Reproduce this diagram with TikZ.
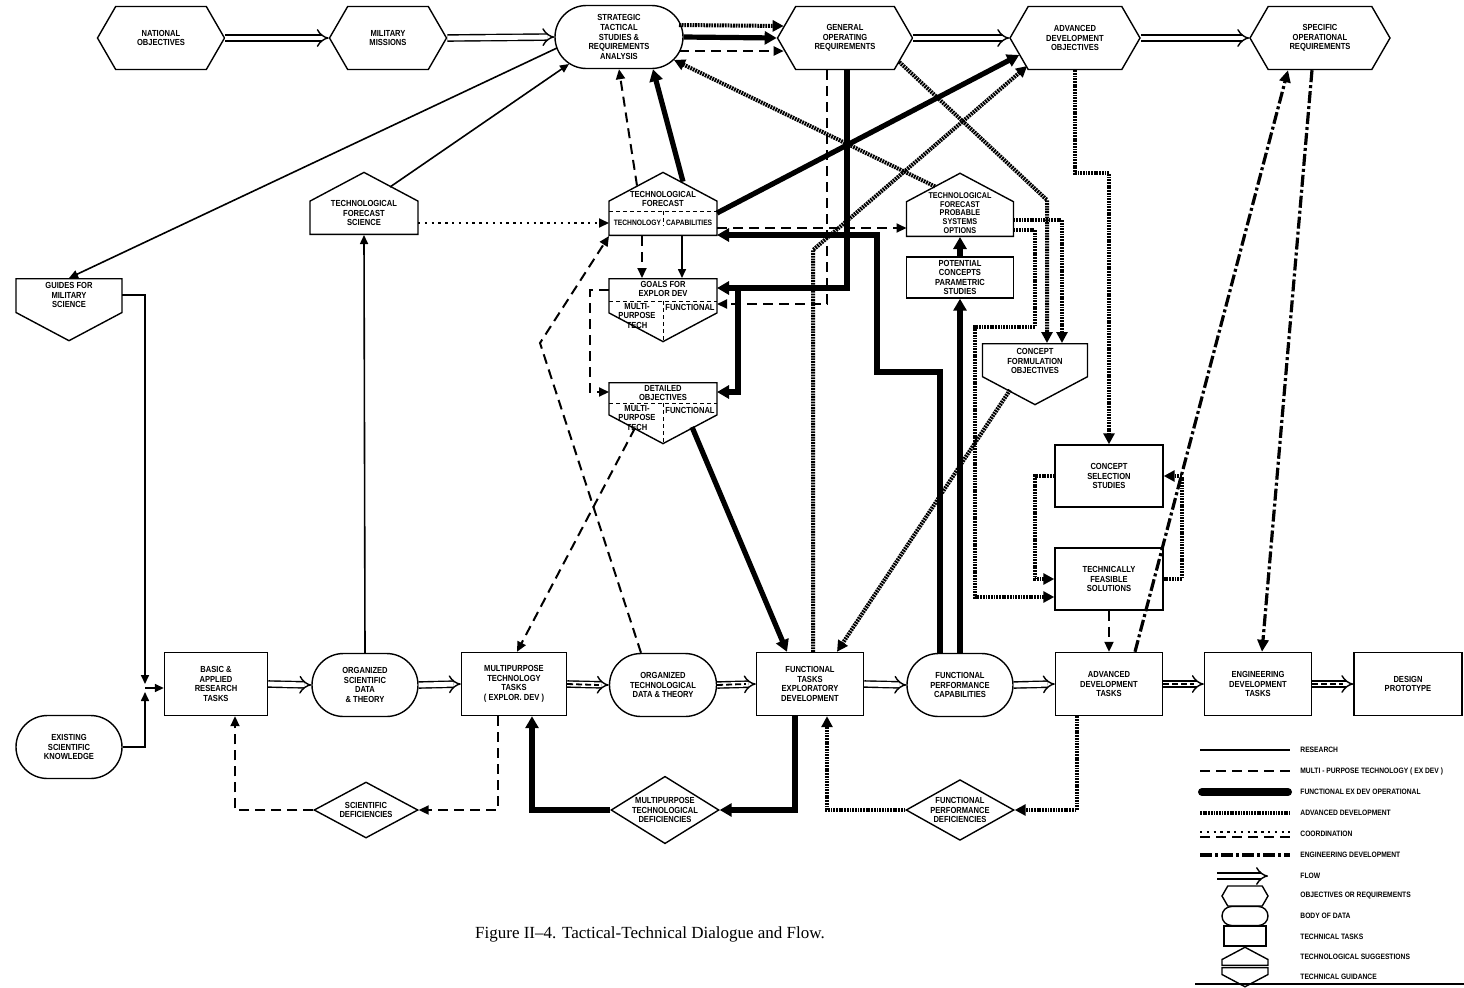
\documentclass[tikz,border=0pt]{standalone}
\usepackage{fontspec}
\setmainfont{Liberation Serif}
\newfontfamily\labfont[FakeStretch=0.86]{Liberation Sans}
\usetikzlibrary{arrows.meta, positioning, shapes.geometric, shapes.symbols, shapes.misc, calc}
\tikzset{
    lbl/.style={font=\labfont\bfseries\fontsize{4.4}{4.8}\selectfont, align=center, inner sep=0pt},
    legtext/.style={font=\labfont\bfseries\fontsize{3.9}{4.2}\selectfont, anchor=west, inner sep=0pt},
    objbox/.style={lbl, draw, line width=0.7pt, signal, signal to=west and east, signal pointer angle=120, minimum height=31.5pt},
    databox/.style={lbl, draw, line width=0.7pt, rounded rectangle, minimum height=31.5pt},
    taskbox/.style={lbl, draw, line width=0.7pt, rectangle, minimum height=31.5pt},
    suggbox/.style={draw, line width=0.7pt, signal, signal to=north, signal pointer angle=124, inner sep=0pt, anchor=south},
    guidbox/.style={draw, line width=0.7pt, signal, signal to=south, signal pointer angle=124, inner sep=0pt, anchor=north},
    defbox/.style={lbl, draw, line width=0.7pt, diamond, inner sep=-3pt},
    divline/.style={line width=0.5pt, dash pattern=on 2pt off 1.5pt},
    researchline/.style={line width=0.8pt, -{Triangle[length=4.5pt,width=4pt]}},
    multiline/.style={line width=1pt, dash pattern=on 5pt off 3pt, -{Triangle[length=5pt,width=4.5pt]}},
    funcline/.style={line width=2.6pt, -{Triangle[length=6pt,width=6.5pt]}},
    advline/.style={line width=2pt, dash pattern=on 0.9pt off 0.45pt, -{Triangle[length=5.5pt,width=5.5pt]}},
    coordline/.style={line width=0.9pt, dash pattern=on 1.2pt off 2.2pt, -{Triangle[length=5pt,width=4.5pt]}},
    engrline/.style={line width=1.6pt, dash pattern=on 6pt off 1.5pt on 1.5pt off 1.5pt, -{Triangle[length=6pt,width=5.5pt]}},
    flowline/.style={double, double distance=2.4pt, line width=0.7pt, -{Implies}},
    flowdash/.style={line width=0.9pt, dash pattern=on 3pt off 1.5pt}
}
\begin{document}
\begin{tikzpicture}[x=0.5pt, y=-0.5pt]
\useasboundingbox (0,0) rectangle (1464,987);

% objectives and requirements
\node[objbox, minimum width=63.5pt] (natobj) at (161,38) {NATIONAL\\OBJECTIVES};
\node[objbox, minimum width=58.5pt] (milmis) at (388,38) {MILITARY\\MISSIONS};
\node[databox, minimum width=64pt] (stsra) at (619,37) {STRATEGIC\\TACTICAL\\STUDIES \&\\REQUIREMENTS\\ANALYSIS};
\node[objbox, minimum width=67.5pt] (genreq) at (845,38) {GENERAL\\OPERATING\\REQUIREMENTS};
\node[objbox, minimum width=65pt] (advobj) at (1075,38) {ADVANCED\\DEVELOPMENT\\OBJECTIVES};
\node[objbox, minimum width=70pt] (specreq) at (1320,38) {SPECIFIC\\OPERATIONAL\\REQUIREMENTS};

% suggestions and guidance
\node[suggbox, minimum width=54pt, minimum height=16.6pt] (tfsci) at (364,235) {};
\node[lbl] (tfscitxt) at (364,213) {TECHNOLOGICAL\\FORECAST\\SCIENCE};
\node[guidbox, minimum width=53pt, minimum height=16.9pt] (guides) at (69,278) {};
\node[lbl] (guidestxt) at (69,295) {GUIDES FOR\\MILITARY\\SCIENCE};

\node[suggbox, minimum width=54pt, minimum height=17.1pt] (techfc) at (663,236) {};
\node[lbl] (techfctxt) at (663,199) {TECHNOLOGICAL\\FORECAST};
\node[lbl, font=\labfont\bfseries\fontsize{3.9}{4.2}\selectfont] (techcaptxt) at (663,223) {TECHNOLOGY\hspace{2.5pt}CAPABILITIES};
\draw[divline] (609,211) -- (717,211) (663,211) -- (663,226);

\node[guidbox, minimum width=54pt, minimum height=17.1pt] (goals) at (663,278) {};
\node[lbl] (goalstxt) at (663,289) {GOALS FOR\\EXPLOR DEV};
\node[lbl] (goalsmp) at (637,316) {MULTI-\\PURPOSE\\TECH};
\node[lbl] (goalsfn) at (690,307) {FUNCTIONAL};
\draw[divline] (609,301) -- (717,301) (663,301) -- (663,340);

\node[guidbox, minimum width=54pt, minimum height=16.1pt] (detobj) at (663,382) {};
\node[lbl] (detobjtxt) at (663,393) {DETAILED\\OBJECTIVES};
\node[lbl] (detobjmp) at (637,418) {MULTI-\\PURPOSE\\TECH};
\node[lbl] (detobjfn) at (690,410) {FUNCTIONAL};
\draw[divline] (609,403) -- (717,403) (663,403) -- (663,442);

\node[suggbox, minimum width=53.5pt, minimum height=17.3pt] (tfpso) at (960,237) {};
\node[lbl, font=\labfont\bfseries\fontsize{4.2}{4.3}\selectfont] (tfpsotxt) at (960,213) {TECHNOLOGICAL\\FORECAST\\PROBABLE\\SYSTEMS\\OPTIONS};
\node[taskbox, minimum width=53.5pt, minimum height=20.5pt] (pcps) at (960,277.5) {POTENTIAL\\CONCEPTS\\PARAMETRIC\\STUDIES};
\node[guidbox, minimum width=52.5pt, minimum height=16.5pt] (cfo) at (1035,343) {};
\node[lbl] (cfotxt) at (1035,361) {CONCEPT\\FORMULATION\\OBJECTIVES};
\node[taskbox, minimum width=54pt, minimum height=31pt] (css) at (1109,476) {CONCEPT\\SELECTION\\STUDIES};
\node[taskbox, minimum width=54pt, minimum height=31pt] (tfs) at (1109,579) {TECHNICALLY\\FEASIBLE\\SOLUTIONS};

% tasks and data row
\node[databox, minimum width=53pt] (exsci) at (69,747) {EXISTING\\SCIENTIFIC\\KNOWLEDGE};
\node[taskbox, minimum width=51.5pt] (basic) at (216,684) {BASIC \&\\APPLIED\\RESEARCH\\TASKS};
\node[databox, minimum width=53pt] (orgsci) at (365,685) {ORGANIZED\\SCIENTIFIC\\DATA\\\& THEORY};
\node[taskbox, minimum width=52.5pt] (mtt) at (514,684) {MULTIPURPOSE\\TECHNOLOGY\\TASKS\\( EXPLOR. DEV )};
\node[databox, minimum width=53.5pt] (orgtech) at (663,685) {ORGANIZED\\TECHNOLOGICAL\\DATA \& THEORY};
\node[taskbox, minimum width=53.5pt] (fts) at (810,684) {FUNCTIONAL\\TASKS\\EXPLORATORY\\DEVELOPMENT};
\node[databox, minimum width=53pt] (fpc) at (960,685) {FUNCTIONAL\\PERFORMANCE\\CAPABILITIES};
\node[taskbox, minimum width=53.5pt] (adt) at (1109,684) {ADVANCED\\DEVELOPMENT\\TASKS};
\node[taskbox, minimum width=53.5pt] (edt) at (1258,684) {ENGINEERING\\DEVELOPMENT\\TASKS};
\node[taskbox, minimum width=54pt] (design) at (1408,684) {DESIGN\\PROTOTYPE};

% deficiencies
\node[defbox, minimum width=52pt, minimum height=28pt] (scidef) at (366,810) {SCIENTIFIC\\DEFICIENCIES};
\node[defbox, minimum width=54pt, minimum height=29pt] (mtdef) at (665,810) {MULTIPURPOSE\\TECHNOLOGICAL\\DEFICIENCIES};
\node[defbox, minimum width=54pt, minimum height=29pt] (fpdef) at (960,810) {FUNCTIONAL\\PERFORMANCE\\DEFICIENCIES};

% bend points
\coordinate (junc) at (145,688);
\coordinate (fbend) at (877,372);
\coordinate (gobend) at (738,288);
\coordinate (gdl) at (590,340);
\coordinate (otbend) at (540,343);
\coordinate (gcbend) at (1047,200);
\coordinate (ftbend) at (813,250);
\coordinate (adbend) at (1075,173);
\coordinate (tb1) at (1035,327);
\coordinate (tb2) at (975,597);
\coordinate (cl) at (1035,520);
\coordinate (cr) at (1182,520);

% flow
\draw[flowline] (natobj.east) -- (milmis.west);
\draw[flowline] (milmis.east) -- (stsra.west);
\draw[flowline] (genreq.east) -- (advobj.west);
\draw[flowline] (advobj.east) -- (specreq.west);
\draw[flowline] (basic.east) -- (orgsci.west);
\draw[flowline] (orgsci.east) -- (mtt.west);
\draw[flowline] (mtt.east) -- (orgtech.west);
\draw[flowdash] (mtt.east) -- ([xshift=-5pt]orgtech.west);
\draw[flowline] (orgtech.east) -- (fts.west);
\draw[flowdash] (orgtech.east) -- ([xshift=-5pt]fts.west);
\draw[flowline] (fts.east) -- (fpc.west);
\draw[flowline] (fpc.east) -- (adt.west);
\draw[flowline] (adt.east) -- (edt.west);
\draw[flowdash] (adt.east) -- ([xshift=-5pt]edt.west);
\draw[flowline] (edt.east) -- (design.west);
\draw[flowdash] (edt.east) -- ([xshift=-5pt]design.west);

% research
\draw[researchline] ([xshift=-31pt,yshift=-5.5pt]stsra.center) -- (guides.north);
\draw[researchline] ([xshift=13pt,yshift=24pt]tfsci.south) -- ([xshift=-25pt,yshift=-13.5pt]stsra.center);
\draw[researchline] (orgsci.north) -- (tfsci.south);
\draw[researchline] ([xshift=26.5pt,yshift=-8.5pt]guides.north) -| ([yshift=2pt]junc);
\draw[researchline] (exsci.east) -| ([yshift=-2pt]junc);
\draw[researchline] (junc) -- (junc -| basic.west);
\draw[researchline] ([xshift=9.5pt]techfc.south) -- ([xshift=9.5pt]goals.north);

% multi-purpose technology
\draw[multiline] ([xshift=30pt,yshift=-7pt]stsra.center) -- ([xshift=3.5pt,yshift=-6.5pt]genreq.west);
\draw[multiline] ([xshift=-13pt,yshift=-7pt]techfc.north) -- (stsra.south);
\draw[multiline] ([xshift=-9pt]genreq.south) |- ([xshift=27pt,yshift=-13pt]goals.north);
\draw[multiline] ([xshift=27pt,yshift=4pt]techfc.south) -- ([xshift=-26.75pt,yshift=4.5pt]tfpso.south);
\draw[multiline] ([xshift=-10.5pt]techfc.south) -- ([xshift=-10.5pt]goals.north);
\draw[multiline] ([xshift=-27pt,yshift=-6pt]goals.north) -| (gdl) |- ([xshift=-27pt,yshift=-5pt]detobj.north);
\draw[multiline] ([xshift=-14pt,yshift=-23pt]detobj.north) -- ([xshift=1.5pt]mtt.north);
\draw[multiline] ([xshift=-11pt]orgtech.north) -- (otbend) -- ([xshift=-27pt]techfc.south);
\draw[multiline] ([xshift=-8pt]mtt.south) |- (scidef.east);
\draw[multiline] (scidef.west) -| ([xshift=9.5pt]basic.south);
\draw[multiline] (tfs.south) -- (adt.north);

% functional exploratory development
\draw[funcline] (stsra.east) -- (genreq.west);
\draw[funcline] ([xshift=10pt,yshift=-5pt]techfc.north) -- ([xshift=17pt]stsra.south);
\draw[funcline] ([xshift=27pt,yshift=11.5pt]techfc.south) -- ([xshift=5pt,yshift=-8.5pt]advobj.west);
\draw[funcline] ([xshift=1pt]genreq.south) |- ([xshift=27pt,yshift=-5pt]goals.north);
\draw[funcline] (gobend) |- ([xshift=27pt,yshift=-5pt]detobj.north);
\draw[funcline] ([xshift=-10pt]fpc.north) |- (fbend) |- ([xshift=27pt,yshift=0.5pt]techfc.south);
\draw[funcline] (fpc.north) -- (pcps.south);
\draw[funcline] (pcps.north) -- (tfpso.south);
\draw[funcline] ([xshift=14.5pt,yshift=-22.5pt]detobj.north) -- ([xshift=-11.5pt]fts.north);
\draw[funcline] ([xshift=-7.5pt]fts.south) |- (mtdef.east);
\draw[funcline] (mtdef.west) -| ([xshift=9pt]mtt.south);

% advanced development
\draw[advline] ([xshift=30pt,yshift=6pt]stsra.center) -- ([xshift=3.5pt,yshift=6pt]genreq.west);
\draw[advline] ([xshift=-12.5pt,yshift=-7pt]tfpso.north) -- ([xshift=27.5pt,yshift=-11.5pt]stsra.center);
\draw[advline] ([xshift=-7pt,yshift=-12pt]genreq.east) -- (gcbend) -- (gcbend |- cfo.north);
\draw[advline] (fts.north -| ftbend) -- (ftbend) -- ([xshift=9pt,yshift=-14pt]advobj.west);
\draw[advline] (advobj.south) -- (adbend) -| (css.north);
\draw[advline] ([xshift=26.75pt,yshift=8.5pt]tfpso.south) -| ([xshift=13.5pt]cfo.north);
\draw[advline] ([xshift=26.75pt,yshift=3.5pt]tfpso.south) -| (tb1) -| (tb2) -- (tb2 -| tfs.west);
\draw[advline] ([xshift=-12.5pt,yshift=-23.5pt]cfo.north) -- ([xshift=13.5pt]fts.north);
\draw[advline] (css.west) -| (cl) |- (tfs.west);
\draw[advline] (tfs.east) -| (cr) |- (css.east);
\draw[advline] (fpdef.west) -| ([xshift=8.5pt]fts.south);
\draw[advline] ([xshift=-16pt]adt.south) |- (fpdef.east);

% coordination
\draw[coordline] ([xshift=27pt,yshift=6pt]tfsci.south) -- ([xshift=-27pt,yshift=6.5pt]techfc.south);

% engineering development
\draw[engrline] ([xshift=13pt]adt.north) -- ([xshift=-16pt]specreq.south);
\draw[engrline] ([xshift=-4pt]specreq.south) -- ([xshift=2pt]edt.north);

\node[font=\fontsize{8.5}{10}\selectfont] (caption) at (650,934) {Figure II--4. Tactical-Technical Dialogue and Flow.};

% legend
\draw[researchline, -] (1200,750) -- (1290,750);
\draw[multiline, -] (1200,771) -- (1290,771);
\draw[funcline, -, line width=4pt, line cap=round] (1202,792) -- (1288,792);
\draw[advline, -] (1200,813) -- (1290,813);
\draw[coordline, -, line width=0.8pt] (1200,832) -- (1290,832);
\draw[multiline, -, line width=0.9pt] (1200,837) -- (1290,837);
\draw[engrline, -] (1200,855) -- (1290,855);
\draw[flowline] (1217,876) -- (1268,876);
\node[objbox, minimum width=23pt, minimum height=10pt] (legobj) at (1245,896) {};
\node[databox, minimum width=23pt, minimum height=9.5pt] (legdata) at (1245,916) {};
\node[taskbox, minimum width=21pt, minimum height=10pt] (legtask) at (1245,936) {};
\node[suggbox, minimum width=23pt, minimum height=2.9pt] (legsugg) at (1245,966) {};
\node[guidbox, minimum width=23pt, minimum height=3.4pt] (legguid) at (1245,967) {};
\node[legtext] (legres) at (1300,750) {RESEARCH};
\node[legtext] (legmulti) at (1300,771) {MULTI - PURPOSE TECHNOLOGY ( EX DEV )};
\node[legtext] (legfunc) at (1300,792) {FUNCTIONAL EX DEV OPERATIONAL};
\node[legtext] (legadv) at (1300,813) {ADVANCED DEVELOPMENT};
\node[legtext] (legcoord) at (1300,834) {COORDINATION};
\node[legtext] (legengr) at (1300,855) {ENGINEERING DEVELOPMENT};
\node[legtext] (legflow) at (1300,876) {FLOW};
\node[legtext] (legobjt) at (1300,896) {OBJECTIVES OR REQUIREMENTS};
\node[legtext] (legdatat) at (1300,916) {BODY OF DATA};
\node[legtext] (legtaskt) at (1300,937) {TECHNICAL TASKS};
\node[legtext] (legsuggt) at (1300,957) {TECHNOLOGICAL SUGGESTIONS};
\node[legtext] (legguidt) at (1300,977) {TECHNICAL GUIDANCE};
\draw[line width=0.8pt] (1195,984) -- (1464,984);

\end{tikzpicture}
\end{document}
